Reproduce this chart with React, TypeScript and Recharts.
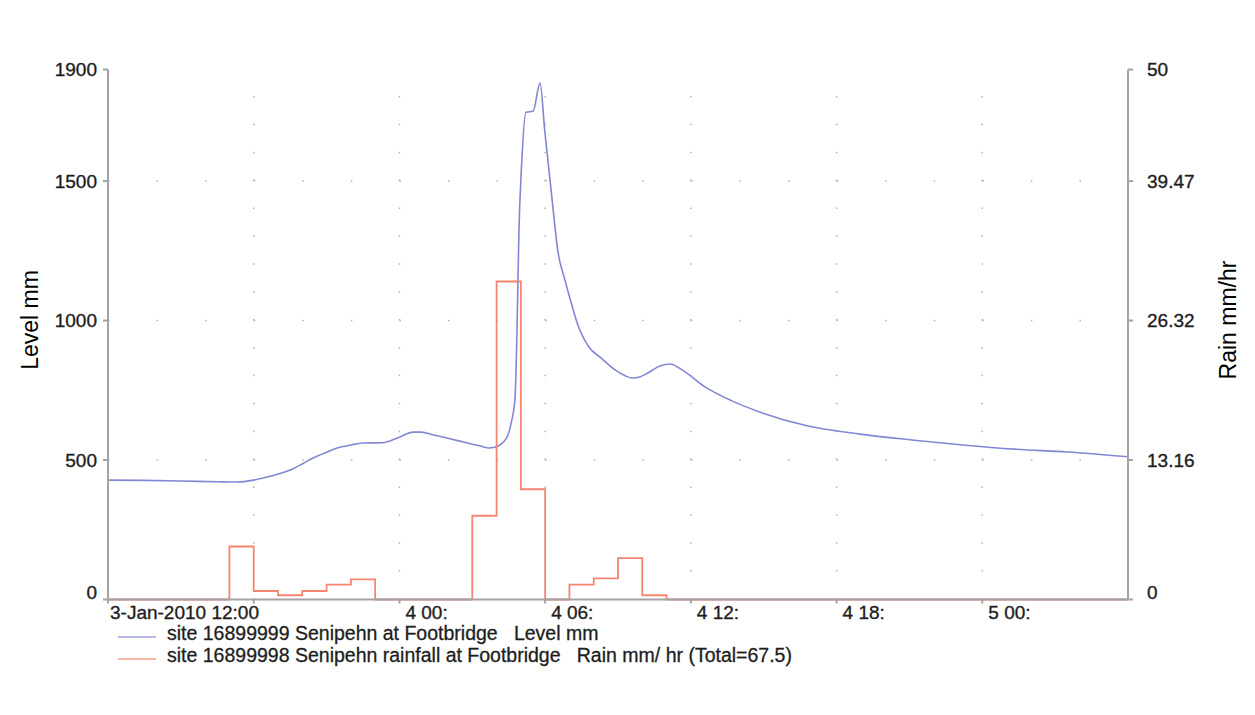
import { ComposedChart, Line, XAxis, YAxis, ReferenceLine, Legend } from 'recharts'

const FONT = '"Liberation Sans", Arial, sans-serif'
const AXIS = '#a3a3a3'
const DOT = '#b3b3b3'
const TEXT = '#1e1e1e'
const LEVEL_COLOR = '#8287d4'
const RAIN_COLOR = '#f58470'

// hours after 3-Jan-2010 12:00
const levelHours = [
  0, 1.5, 3, 4.5, 5.3, 6, 6.55, 7, 7.5, 8, 8.44, 9, 9.43, 10, 10.5, 11.3, 12, 12.56, 12.9, 13.4, 14,
  14.8, 15.3, 15.7, 16.06, 16.3, 16.47, 16.62, 16.76, 16.84, 16.92, 17.03, 17.21, 17.5, 17.79, 17.99,
  18.28, 18.53, 18.8, 19.02, 19.35, 19.8, 20.3, 20.88, 21.3, 21.58, 21.9, 22.15, 22.73, 23.14, 23.59,
  24.58, 25.69, 26.97, 28.82, 30.96, 33.1, 35.2, 37.35, 39.49, 42,
]
const levelMm = [
  428, 427, 425, 422, 421, 428, 439, 450, 464, 486, 507, 528, 543, 554, 561, 562, 582, 600, 600, 590, 578,
  561, 551, 543, 550, 566, 590, 640, 722, 959, 1317, 1557, 1747, 1750, 1851, 1675,
  1439, 1245, 1150, 1080, 984, 905, 866, 823, 802, 794, 798, 808, 837, 844, 826,
  762, 712, 668, 622, 593, 572, 554, 539, 529, 512,
]
// hourly rainfall, one value per hour from 3-Jan 12:00
const rainMmHr = [
  0, 0, 0, 0, 0, 5.0, 0.8, 0.4, 0.8, 1.4, 1.9, 0, 0, 0, 0, 7.9, 30.0, 10.4, 0, 1.4, 2.0, 3.9, 0.4,
  0, 0, 0, 0, 0, 0, 0, 0, 0, 0, 0, 0, 0, 0, 0, 0, 0, 0, 0, 0,
]

const xTicks = [0, 6, 12, 18, 24, 30, 36]
const xTickLabels = ['3-Jan-2010 12:00', '', '4 00:', '4 06:', '4 12:', '4 18:', '5 00:']
const levelTicks = [0, 500, 1000, 1500, 1900]
const rainTicks = [0, 13.16, 26.32, 39.47, 50]
const levelDotRows = [500, 1000, 1500]
const hourDotCols = [6, 12, 18, 24, 30, 36]

const legendItems = [
  { label: 'site 16899999 Senipehn at Footbridge   Level mm', color: '#b7bae8' },
  { label: 'site 16899998 Senipehn rainfall at Footbridge   Rain mm/ hr (Total=67.5)', color: '#f8b6a8' },
]

const levelData = levelHours.map((h, i) => ({ h, level: levelMm[i] }))
const rainData = rainMmHr.map((rain, h) => ({ h, rain }))

const W = 1255
const H = 715
const margin = { top: 69.5, right: 67, bottom: 85.5, left: 48 }
const plotW = W - margin.left - margin.right - 120
const plotH = H - margin.top - margin.bottom - 30

const textStyle = { fontSize: 19, fill: TEXT, fontFamily: FONT, stroke: TEXT, strokeWidth: 0.35 }

function XTick({ x, y, payload }: any) {
  const i = xTicks.indexOf(payload.value)
  return (
    <text x={x + (i === 0 ? 2 : 6)} y={y} dy="0.71em" textAnchor="start" {...textStyle}>
      {xTickLabels[i] ?? ''}
    </text>
  )
}

function YTick({ x, y, payload, textAnchor }: any) {
  return (
    <text x={x} y={payload.value === 0 ? y - 7 : y} dy="0.355em" textAnchor={textAnchor} {...textStyle}>
      {String(payload.value)}
    </text>
  )
}

function LegendBox() {
  return (
    <div style={{ fontFamily: FONT, fontSize: 19.5, color: TEXT, WebkitTextStroke: '0.3px #1e1e1e' }}>
      {legendItems.map((it) => (
        <div key={it.label} style={{ display: 'flex', alignItems: 'center', height: 22, whiteSpace: 'pre' }}>
          <svg width={38} height={22} style={{ marginRight: 11 }}>
            <line x1={0} x2={38} y1={15} y2={15} stroke={it.color} strokeWidth={2} />
          </svg>
          <span>{it.label}</span>
        </div>
      ))}
    </div>
  )
}

export default function App() {
  return (
    <div style={{ position: 'absolute', left: 0, top: 0, width: W, height: H, background: '#fff' }}>
      <ComposedChart width={W} height={H} margin={margin}>
        <XAxis
          xAxisId="b"
          type="number"
          dataKey="h"
          domain={[0, 42]}
          ticks={xTicks}
          height={30}
          stroke={AXIS}
          strokeWidth={2}
          tickSize={4}
          tickMargin={2}
          tick={<XTick />}
        />
        <XAxis
          xAxisId="t"
          orientation="top"
          type="number"
          dataKey="h"
          domain={[0, 42]}
          ticks={xTicks}
          height={0}
          stroke={AXIS}
          strokeWidth={2}
          tickSize={5}
          tick={() => <g />}
        />
        <YAxis
          yAxisId="level"
          orientation="left"
          domain={[0, 1900]}
          ticks={levelTicks}
          width={60}
          stroke={AXIS}
          strokeWidth={2}
          tickSize={5}
          tickMargin={6}
          tick={<YTick />}
        />
        <YAxis
          yAxisId="rain"
          orientation="right"
          domain={[0, 50]}
          ticks={rainTicks}
          width={60}
          stroke={AXIS}
          strokeWidth={2}
          tickSize={5}
          tickMargin={14}
          tick={<YTick />}
        />
        {levelDotRows.map((v) => (
          <ReferenceLine
            key={'r' + v}
            xAxisId="b"
            yAxisId="level"
            y={v}
            stroke={DOT}
            strokeWidth={1.5}
            strokeDasharray={`1.5 ${plotW / 21 - 1.5}`}
          />
        ))}
        {hourDotCols.map((h) => (
          <ReferenceLine
            key={'c' + h}
            xAxisId="b"
            yAxisId="level"
            x={h}
            stroke={DOT}
            strokeWidth={1.5}
            strokeDasharray={`1.5 ${plotH / 19 - 1.5}`}
          />
        ))}
        <Line
          xAxisId="b"
          yAxisId="level"
          data={levelData}
          dataKey="level"
          type="monotone"
          stroke={LEVEL_COLOR}
          strokeWidth={1.6}
          dot={false}
          isAnimationActive={false}
        />
        <Line
          xAxisId="b"
          yAxisId="rain"
          data={rainData}
          dataKey="rain"
          type="stepAfter"
          stroke={RAIN_COLOR}
          strokeWidth={1.8}
          dot={false}
          isAnimationActive={false}
        />
        <Legend
          layout="horizontal"
          verticalAlign="middle"
          align="center"
          wrapperStyle={{ left: 118, top: 622, width: 900 }}
          content={() => <LegendBox />}
        />
        <text x={30} y={320} transform="rotate(-90 30 320)" textAnchor="middle" dominantBaseline="central" fontSize={23} fill="#000" fontFamily={FONT}>
          Level mm
        </text>
        <text x={1228} y={320} transform="rotate(-90 1228 320)" textAnchor="middle" dominantBaseline="central" fontSize={23} fill="#000" fontFamily={FONT}>
          Rain mm/hr
        </text>
      </ComposedChart>
    </div>
  )
}
